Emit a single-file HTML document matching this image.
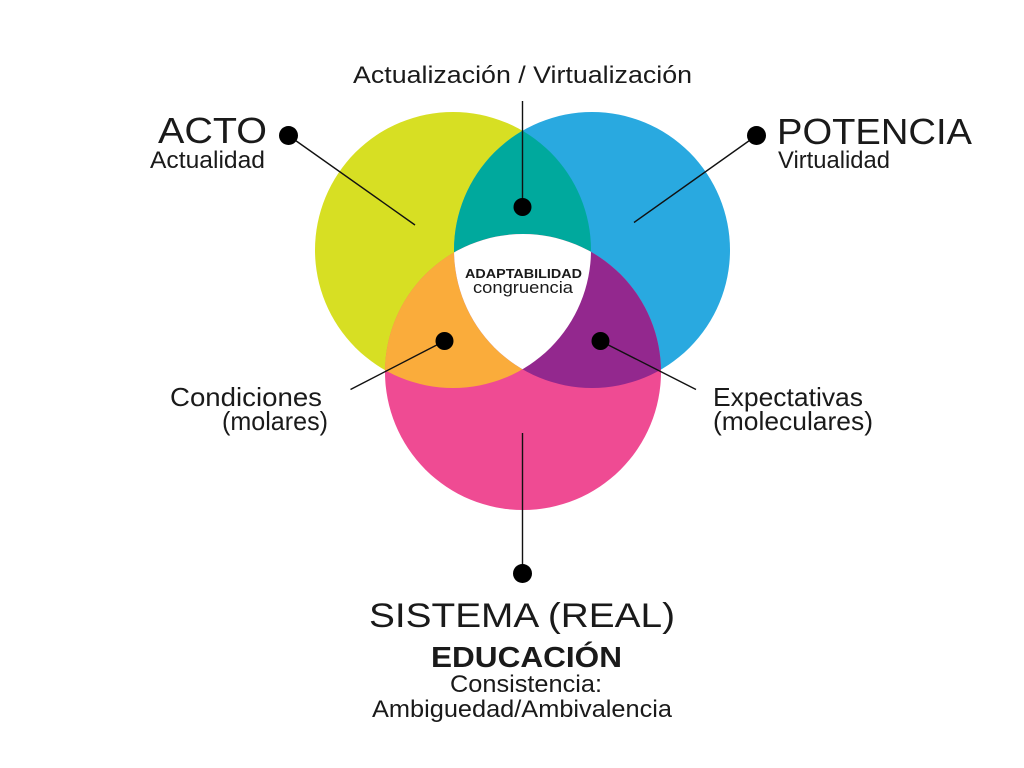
<!DOCTYPE html>
<html>
<head>
<meta charset="utf-8">
<style>
  html,body{margin:0;padding:0;background:#fff;}
  svg{display:block;}
  text{font-family:"Liberation Sans", sans-serif; fill:#1a1a1a;}
</style>
</head>
<body>
<svg width="1024" height="768" viewBox="0 0 1024 768" xmlns="http://www.w3.org/2000/svg">
  <defs>
    <clipPath id="cY"><circle cx="453" cy="250" r="138"/></clipPath>
    <clipPath id="cB"><circle cx="592" cy="250" r="138"/></clipPath>
    <clipPath id="cP"><circle cx="523" cy="372" r="138"/></clipPath>
  </defs>
  <rect width="1024" height="768" fill="#fff"/>

  <!-- base circles -->
  <circle cx="453" cy="250" r="138" fill="#d7df23"/>
  <circle cx="592" cy="250" r="138" fill="#29a9e0"/>
  <circle cx="523" cy="372" r="138" fill="#ef4b93"/>

  <!-- pairwise intersections -->
  <g clip-path="url(#cY)"><circle cx="592" cy="250" r="138" fill="#00a99d"/></g>
  <g clip-path="url(#cY)"><circle cx="523" cy="372" r="138" fill="#faac3b"/></g>
  <g clip-path="url(#cB)"><circle cx="523" cy="372" r="138" fill="#93288e"/></g>
  <!-- triple intersection -->
  <g clip-path="url(#cY)"><g clip-path="url(#cB)"><circle cx="523" cy="372" r="138" fill="#ffffff"/></g></g>

  <!-- connectors -->
  <g stroke="#111" stroke-width="1.4" fill="none">
    <line x1="288.5" y1="135.5" x2="415" y2="225"/>
    <line x1="756.5" y1="135.5" x2="634" y2="222.5"/>
    <line x1="522.5" y1="101" x2="522.5" y2="207"/>
    <line x1="444.5" y1="341" x2="350.5" y2="389.5"/>
    <line x1="600.5" y1="341" x2="696" y2="389.5"/>
    <line x1="522.5" y1="433" x2="522.5" y2="573"/>
  </g>
  <g fill="#000">
    <circle cx="288.5" cy="135.5" r="9.5"/>
    <circle cx="756.5" cy="135.5" r="9.5"/>
    <circle cx="522.5" cy="207" r="9"/>
    <circle cx="444.5" cy="341" r="9"/>
    <circle cx="600.5" cy="341" r="9"/>
    <circle cx="522.5" cy="573.5" r="9.5"/>
  </g>

  <!-- labels -->
  <text x="353" y="83" font-size="24" textLength="339" lengthAdjust="spacingAndGlyphs">Actualización / Virtualización</text>

  <text x="158" y="143" font-size="36" textLength="109" lengthAdjust="spacingAndGlyphs">ACTO</text>
  <text x="150" y="168" font-size="24" textLength="115" lengthAdjust="spacingAndGlyphs">Actualidad</text>

  <text x="777" y="144" font-size="36" textLength="195" lengthAdjust="spacingAndGlyphs">POTENCIA</text>
  <text x="778" y="168" font-size="24" textLength="112" lengthAdjust="spacingAndGlyphs">Virtualidad</text>

  <text x="465" y="278" font-size="13" font-weight="bold" fill="#000" textLength="117" lengthAdjust="spacingAndGlyphs">ADAPTABILIDAD</text>
  <text x="473" y="293" font-size="17" textLength="100" lengthAdjust="spacingAndGlyphs">congruencia</text>

  <text x="170" y="406" font-size="26" textLength="152" lengthAdjust="spacingAndGlyphs">Condiciones</text>
  <text x="222" y="430" font-size="26" textLength="106" lengthAdjust="spacingAndGlyphs">(molares)</text>

  <text x="713" y="406" font-size="26" textLength="150" lengthAdjust="spacingAndGlyphs">Expectativas</text>
  <text x="713" y="430" font-size="26" textLength="160" lengthAdjust="spacingAndGlyphs">(moleculares)</text>

  <text x="369" y="627" font-size="34" textLength="306" lengthAdjust="spacingAndGlyphs">SISTEMA (REAL)</text>
  <text x="431" y="667" font-size="29" font-weight="bold" fill="#000" textLength="191" lengthAdjust="spacingAndGlyphs">EDUCACIÓN</text>
  <text x="450" y="692" font-size="24" textLength="152" lengthAdjust="spacingAndGlyphs">Consistencia:</text>
  <text x="372" y="717" font-size="24" textLength="300" lengthAdjust="spacingAndGlyphs">Ambiguedad/Ambivalencia</text>
</svg>
</body>
</html>
